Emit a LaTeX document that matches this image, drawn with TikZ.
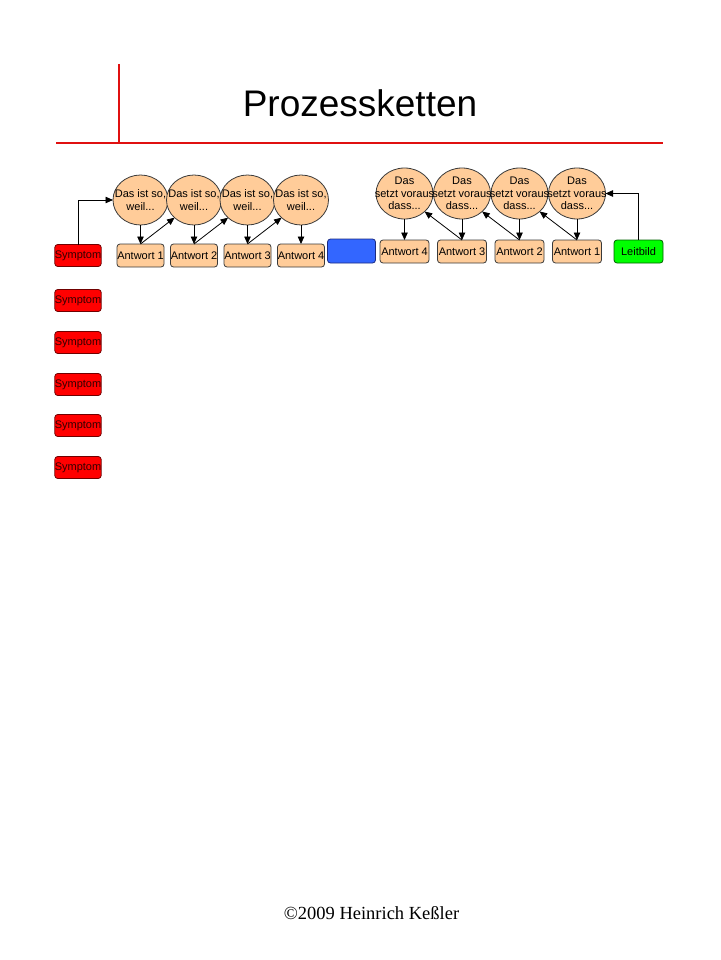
\documentclass[tikz,border=0pt]{standalone}
\usepackage{fontspec}
\setmainfont{Liberation Sans}
\newfontfamily\footerfont{Liberation Serif}
\usepackage{xcolor}
\definecolor{cPeach}{HTML}{FFCC99}
\definecolor{cLine}{HTML}{3A3A3A}
\definecolor{cRule}{HTML}{E01010}
\definecolor{cSym}{HTML}{FF0000}
\definecolor{cSymLine}{HTML}{700000}
\definecolor{cGoal}{HTML}{00FF00}
\definecolor{cGoalLine}{HTML}{006000}
\definecolor{cBlue}{HTML}{3366FF}
\definecolor{cBlueLine}{HTML}{1A2A80}
\usetikzlibrary{positioning,arrows.meta,shapes.geometric}
\tikzset{
  box-answer/.style={draw=cLine,fill=cPeach,line width=0.8pt,rounded corners=3pt,
    minimum width=47pt,minimum height=23pt,inner sep=0pt,outer sep=0pt,
    font=\fontsize{11}{12}\selectfont},
  box-symptom/.style={box-answer,draw=cSymLine,fill=cSym,text=black!80!red,
    minimum width=46pt,minimum height=22pt},
  box-goal/.style={box-answer,draw=cGoalLine,fill=cGoal,minimum width=49pt},
  bubble/.style={ellipse,draw=cLine,fill=cPeach,line width=0.8pt,inner sep=0pt,
    outer sep=0pt,minimum width=55pt,minimum height=50pt},
  bubble-r/.style={bubble,minimum width=57pt,minimum height=51pt},
  bubble-text/.style={inner sep=0pt,align=center,
    font=\fontsize{11}{12.5}\selectfont},
  arrow/.style={-{Triangle[length=7.5pt,width=6.5pt]},line width=0.8pt,draw=black},
  title-rule/.style={draw=cRule,line width=2.6pt},
}
\begin{document}
\begin{tikzpicture}[x=1pt,y=1pt]
  \useasboundingbox (0,0) rectangle (720,-960);
  % Titel
  \draw[title-rule] (119,-64) -- (119,-143);
  \draw[title-rule] (56,-143) -- (663,-143);
  \node[anchor=base,font=\fontsize{37}{40}\selectfont] (title) at (360,-117) {Prozessketten};

  % linke Kette: Symptom -> weil
  \node[box-symptom] (s1) at (78,-255.5) {Symptom};
  \node[box-answer] (aw1) at (140.5,-255.5) {Antwort 1};
  \node[box-answer,right=6.5pt of aw1] (aw2) {Antwort 2};
  \node[box-answer,right=6.5pt of aw2] (aw3) {Antwort 3};
  \node[box-answer,right=6.5pt of aw3] (aw4) {Antwort 4};
  \node[bubble,above=19pt of aw1,label={[bubble-text]center:{Das ist so,\\weil...}}] (cw1) {};
  \node[bubble,above=19pt of aw2,label={[bubble-text]center:{Das ist so,\\weil...}}] (cw2) {};
  \node[bubble,above=19pt of aw3,label={[bubble-text]center:{Das ist so,\\weil...}}] (cw3) {};
  \node[bubble,above=19pt of aw4,label={[bubble-text]center:{Das ist so,\\weil...}}] (cw4) {};

  \node[box-answer,draw=cBlueLine,fill=cBlue,minimum width=48pt,minimum height=24pt]
    (mid) at (351.5,-251) {};

  % rechte Kette: Leitbild -> setzt voraus
  \node[box-answer,minimum width=49pt] (av4) at (404.5,-251.5) {Antwort 4};
  \node[box-answer,minimum width=49pt,right=8.5pt of av4] (av3) {Antwort 3};
  \node[box-answer,minimum width=49pt,right=8.5pt of av3] (av2) {Antwort 2};
  \node[box-answer,minimum width=49pt,right=8.5pt of av2] (av1) {Antwort 1};
  \node[box-goal] (leit) at (638.5,-251.5) {Leitbild};
  \node[bubble-r,above=21pt of av4,label={[bubble-text]center:{Das\\setzt voraus\\dass...}}] (dv4) {};
  \node[bubble-r,above=21pt of av3,label={[bubble-text]center:{Das\\setzt voraus\\dass...}}] (dv3) {};
  \node[bubble-r,above=21pt of av2,label={[bubble-text]center:{Das\\setzt voraus\\dass...}}] (dv2) {};
  \node[bubble-r,above=21pt of av1,label={[bubble-text]center:{Das\\setzt voraus\\dass...}}] (dv1) {};

  % weitere Symptome
  \node[box-symptom,below=23pt of s1] (s2) {Symptom};
  \node[box-symptom,below=20pt of s2] (s3) {Symptom};
  \node[box-symptom,below=20pt of s3] (s4) {Symptom};
  \node[box-symptom,below=19pt of s4] (s5) {Symptom};
  \node[box-symptom,below=20pt of s5] (s6) {Symptom};

  \draw[arrow] (s1.north) |- (cw1.west);
  \draw[arrow] (cw1) -- (aw1);
  \draw[arrow] (cw2) -- (aw2);
  \draw[arrow] (cw3) -- (aw3);
  \draw[arrow] (cw4) -- (aw4);
  \draw[arrow] (aw1.north) -- (cw2.south west);
  \draw[arrow] (aw2.north) -- (cw3.south west);
  \draw[arrow] (aw3.north) -- (cw4.south west);

  \draw[arrow] (leit.north) |- (dv1.east);
  \draw[arrow] (dv4) -- (av4);
  \draw[arrow] (dv3) -- (av3);
  \draw[arrow] (dv2) -- (av2);
  \draw[arrow] (dv1) -- (av1);
  \draw[arrow] (av3.north) -- (dv4.south east);
  \draw[arrow] (av2.north) -- (dv3.south east);
  \draw[arrow] (av1.north) -- (dv2.south east);

  \node[anchor=base,font=\footerfont\fontsize{18.5}{20}\selectfont] (foot) at (371.5,-919) {©2009 Heinrich Keßler};
\end{tikzpicture}
\end{document}
